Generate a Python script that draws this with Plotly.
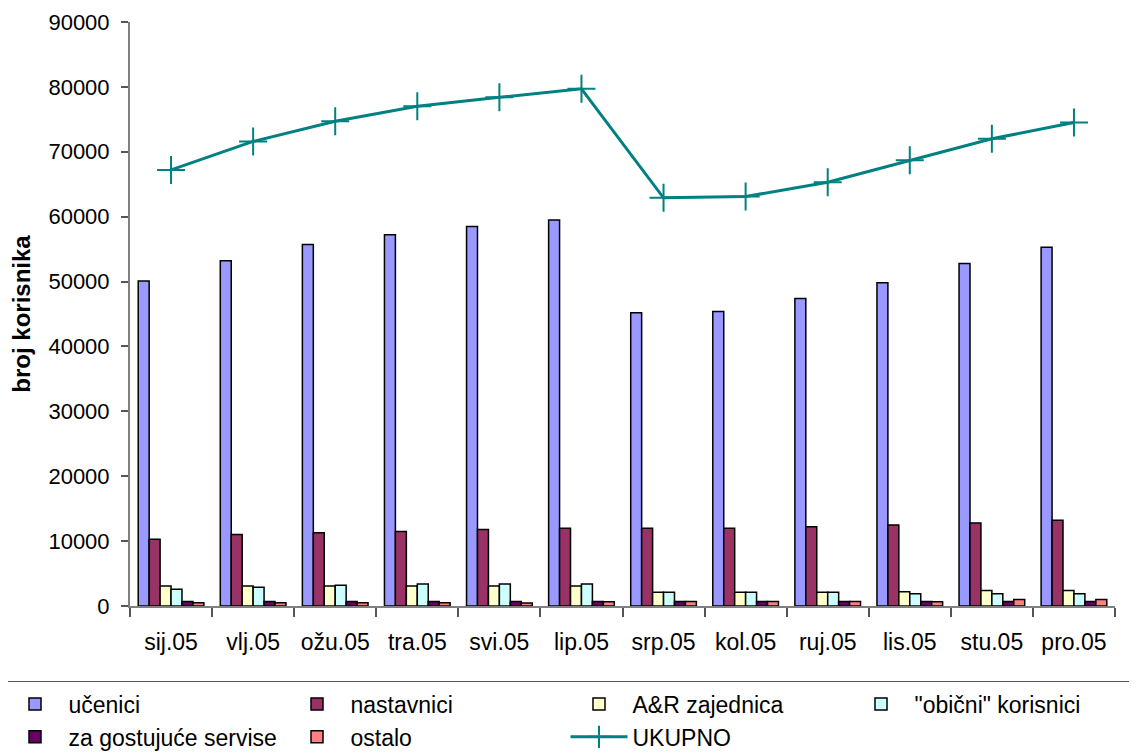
import plotly.graph_objects as go

months = ["sij.05", "vlj.05", "ožu.05", "tra.05", "svi.05", "lip.05",
          "srp.05", "kol.05", "ruj.05", "lis.05", "stu.05", "pro.05"]
ucenici = [50100, 53200, 55700, 57200, 58500, 59500, 45200, 45400, 47400, 49800, 52800, 55300]
nastavnici = [10300, 11000, 11300, 11500, 11800, 12000, 12000, 12000, 12200, 12500, 12800, 13200]
ar_zajednica = [3100, 3100, 3100, 3100, 3100, 3100, 2100, 2100, 2100, 2200, 2400, 2400]
obicni = [2600, 2900, 3200, 3400, 3400, 3400, 2100, 2100, 2100, 1900, 1900, 1900]
gostujuce = [700, 700, 700, 700, 700, 700, 700, 700, 700, 700, 700, 700]
ostalo = [500, 500, 500, 500, 450, 650, 700, 700, 700, 650, 1000, 1000]
ukupno = [67200, 71600, 74700, 77000, 78400, 79700, 62900, 63100, 65300, 68700, 72000, 74500]
y_ticks = [0, 10000, 20000, 30000, 40000, 50000, 60000, 70000, 80000, 90000]

bar_series = [
    ("učenici", ucenici, "#9999FF"),
    ("nastavnici", nastavnici, "#993366"),
    ("A&R zajednica", ar_zajednica, "#FFFFCC"),
    ("\"obični\" korisnici", obicni, "#CCFFFF"),
    ("za gostujuće servise", gostujuce, "#660066"),
    ("ostalo", ostalo, "#FF8080"),
]

fig = go.Figure()
for name, vals, col in bar_series:
    fig.add_trace(go.Bar(x=months, y=vals, name=name,
                         marker=dict(color=col, line=dict(color="black", width=1.5))))

fig.add_trace(go.Scatter(x=months, y=ukupno, name="UKUPNO", mode="lines+markers",
                         line=dict(color="#008080", width=3),
                         marker=dict(symbol="cross-thin", size=20,
                                     line=dict(color="#008080", width=2), color="#008080")))

W = 1137
font = "Liberation Sans, Arial, sans-serif"
fig.update_layout(
    width=W, height=755,
    margin=dict(l=0, r=0, t=14, b=157, autoexpand=False),
    paper_bgcolor="white", plot_bgcolor="white",
    barmode="group", bargap=0.2, bargroupgap=0,
    font=dict(family=font, size=23, color="black"),
    showlegend=True,
    legend=dict(orientation="h",
                x=-8 / W, y=-0.1284, xanchor="left", yanchor="top",
                entrywidth=210, entrywidthmode="pixels",
                itemwidth=57, traceorder="normal",
                bordercolor="#555555", borderwidth=1.5,
                font=dict(family=font, size=23), tracegroupgap=0),
    xaxis=dict(domain=[122 / W, 1107 / W],
               showline=True, linecolor="#808080", linewidth=2,
               range=[-0.5, 11.5],
               ticks="outside", tickson="boundaries", ticklen=9,
               tickcolor="#555555", tickwidth=1.5, showgrid=False,
               ticklabelstandoff=14,
               tickangle=0, automargin=False, tickfont=dict(size=23)),
    yaxis=dict(range=[0, 90000], tickvals=y_ticks, tickformat="d",
               showline=True, linecolor="#808080", linewidth=2,
               ticks="outside", ticklen=7, tickcolor="#555555", tickwidth=1.5,
               ticklabelstandoff=7,
               showgrid=False, zeroline=False, automargin=False,
               title=dict(text="<b>broj korisnika</b>", font=dict(size=24), standoff=12),
               tickfont=dict(size=22)),
)

fig.write_html("out.html")
